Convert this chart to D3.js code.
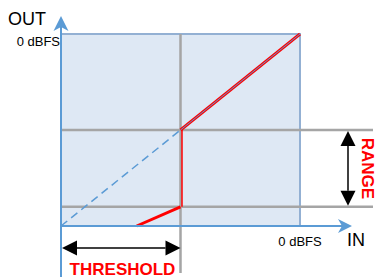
<!DOCTYPE html>
<html>
<head>
<meta charset="utf-8">
<script src="https://cdn.jsdelivr.net/npm/d3@7"></script>
<style>
  body { margin: 0; background: #fff; }
  svg { display: block; }
  text { font-family: "Liberation Sans Narrow", "Liberation Sans", Arial, sans-serif; }
</style>
</head>
<body>
<div id="chart"></div>
<script>
// Data (levels in dB, 0 = full scale)----------------------------------------
const dbDomain = [-60, 0];
const threshold = -30;
const range = 24;
const unityIn = [-60, 0];
const unityOut = [-60, 0];
const gateIn = [-41, -30, -30, 0];
const gateOut = [-60, -54, -30, 0];
const axisNames = ["IN", "OUT"];
const fullScaleLabel = "0 dBFS";
const thresholdLabel = "THRESHOLD";
const rangeLabel = "RANGE";

// Set up------------------------------------------------------------------------
const svgWidth = 377;
const svgHeight = 279;
const blue = "#5b9bd5";
const grey = "#a5a5a5";
const red = "#ff0000";

const svg = d3.select("#chart")
    .append("svg")
    .attr("width", svgWidth)
    .attr("height", svgHeight);

const x = d3.scaleLinear().domain(dbDomain).range([61, 300]);
const y = d3.scaleLinear().domain(dbDomain).range([226, 34]);

const lowLevel = threshold - range;

// box
svg.append("rect")
    .attr("x", x(dbDomain[0]))
    .attr("y", y(dbDomain[1]))
    .attr("width", x(dbDomain[1]) - x(dbDomain[0]))
    .attr("height", y(dbDomain[0]) - y(dbDomain[1]))
    .attr("fill", "#dee8f4");

svg.append("path")
    .attr("d", `M${x(dbDomain[0])},${y(dbDomain[1])}H${x(dbDomain[1])}V${y(dbDomain[0])}`)
    .attr("fill", "none")
    .attr("stroke", "#93b0d3")
    .attr("stroke-width", 2);

// grey guide lines
svg.append("line")
    .attr("x1", x(threshold)).attr("x2", x(threshold))
    .attr("y1", y(dbDomain[1])).attr("y2", 273)
    .attr("stroke", grey).attr("stroke-width", 2.5);

[threshold, lowLevel].forEach(v => {
    svg.append("line")
        .attr("x1", x(dbDomain[0]) + 1).attr("x2", 373)
        .attr("y1", y(v)).attr("y2", y(v))
        .attr("stroke", grey).attr("stroke-width", 2.5);
});

// unity (dashed) line
const line = d3.line().x(d => x(d[0])).y(d => y(d[1]));
svg.append("path")
    .attr("d", line(d3.zip(unityIn, unityOut)))
    .attr("fill", "none")
    .attr("stroke", blue)
    .attr("stroke-width", 1.5)
    .attr("stroke-dasharray", "8,5");

// red transfer curve
const gatePts = d3.zip(gateIn, gateOut);
svg.append("path")
    .attr("d", line(gatePts.slice(0, 2)))
    .attr("fill", "none").attr("stroke", red).attr("stroke-width", 3);
svg.append("path")
    .attr("d", line(gatePts.slice(1, 3)))
    .attr("transform", "translate(1.5,0)")
    .attr("fill", "none").attr("stroke", red).attr("stroke-width", 1.5);
svg.append("path")
    .attr("d", line(gatePts.slice(2)))
    .attr("fill", "none").attr("stroke", red).attr("stroke-width", 3);
svg.append("path")
    .attr("d", line(gatePts.slice(2)))
    .attr("fill", "none").attr("stroke", blue).attr("stroke-width", 1);

// axes with arrow heads
svg.append("line")
    .attr("x1", x(dbDomain[0])).attr("x2", x(dbDomain[0]))
    .attr("y1", 277).attr("y2", 27)
    .attr("stroke", blue).attr("stroke-width", 2);
svg.append("line")
    .attr("x1", x(dbDomain[0])).attr("x2", 344)
    .attr("y1", y(dbDomain[0])).attr("y2", y(dbDomain[0]))
    .attr("stroke", blue).attr("stroke-width", 2);

const ax0 = x(dbDomain[0]);
const ay0 = y(dbDomain[0]);
svg.append("path")
    .attr("d", `M${ax0},16L${ax0 + 7.5},31L${ax0},27L${ax0 - 7.5},31Z`)
    .attr("fill", blue);
svg.append("path")
    .attr("d", `M352,${ay0}L338,${ay0 - 7}L342,${ay0}L338,${ay0 + 7}Z`)
    .attr("fill", blue);

// double arrows
function doubleArrow(x1, y1, x2, y2) {
    const len = Math.hypot(x2 - x1, y2 - y1);
    const ux = (x2 - x1) / len, uy = (y2 - y1) / len;
    const head = 15, half = 7.5;
    svg.append("line")
        .attr("x1", x1 + ux * head).attr("y1", y1 + uy * head)
        .attr("x2", x2 - ux * head).attr("y2", y2 - uy * head)
        .attr("stroke", "#000").attr("stroke-width", 1.5);
    [[x1, y1, 1], [x2, y2, -1]].forEach(([px, py, s]) => {
        const bx = px + s * ux * head, by = py + s * uy * head;
        svg.append("path")
            .attr("d", `M${px},${py}L${bx - uy * half},${by + ux * half}L${bx + uy * half},${by - ux * half}Z`)
            .attr("fill", "#000");
    });
}
doubleArrow(348, y(threshold) + 1, 348, y(lowLevel) - 1);
doubleArrow(x(dbDomain[0]) + 1, 248, x(threshold), 248);

// texts
svg.append("text")
    .attr("x", 8).attr("y", 25)
    .attr("font-size", "18px")
    .text(axisNames[1]);
svg.append("text")
    .attr("x", 347).attr("y", 246)
    .attr("font-size", "18px")
    .text(axisNames[0]);
svg.append("text")
    .attr("x", 60).attr("y", 46)
    .attr("text-anchor", "end")
    .attr("font-size", "13px")
    .text(fullScaleLabel);
svg.append("text")
    .attr("x", x(dbDomain[1])).attr("y", 246)
    .attr("text-anchor", "middle")
    .attr("font-size", "13px")
    .text(fullScaleLabel);

svg.append("text")
    .attr("x", 122.5).attr("y", 275)
    .attr("text-anchor", "middle")
    .attr("font-size", "17px")
    .attr("font-weight", "bold")
    .attr("fill", red)
    .text(thresholdLabel);
svg.append("text")
    .attr("transform", `translate(362,${(y(threshold) + y(lowLevel)) / 2}) rotate(90)`)
    .attr("text-anchor", "middle")
    .attr("font-size", "17px")
    .attr("font-weight", "bold")
    .attr("fill", red)
    .text(rangeLabel);
</script>
</body>
</html>
